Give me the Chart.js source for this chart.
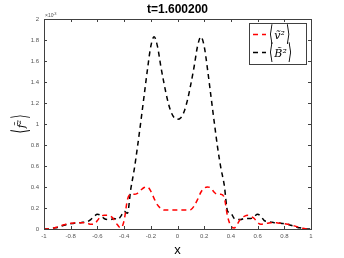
<!DOCTYPE html>
<html><head><meta charset="utf-8">
<script src="https://cdn.jsdelivr.net/npm/chart.js@4"></script>
<style>html,body{margin:0;padding:0;background:#fff;}#wrap{width:344px;height:258px;}</style>
</head><body><div id="wrap"><canvas id="c" width="344" height="258"></canvas></div>
<script>
const titleText = "t=1.600200";
const xLabel = "x";
const yLabel = "\u27E8f\u0303\u00B2\u27E9";
const seriesLabels = ["\u27E8\u1E7D\u00B2\u27E9", "\u27E8B\u0303\u00B2\u27E9"];
const xTicks = [-1, -0.8, -0.6, -0.4, -0.2, 0, 0.2, 0.4, 0.6, 0.8, 1];
const yTicks = [0, 0.2, 0.4, 0.6, 0.8, 1, 1.2, 1.4, 1.6, 1.8, 2];
const xs = [-1.000,-0.975,-0.950,-0.925,-0.900,-0.875,-0.850,-0.825,-0.800,-0.775,-0.750,-0.725,-0.700,-0.675,-0.650,-0.625,-0.600,-0.575,-0.550,-0.525,-0.500,-0.475,-0.450,-0.425,-0.400,-0.375,-0.350,-0.325,-0.300,-0.275,-0.250,-0.225,-0.200,-0.175,-0.150,-0.125,-0.100,-0.075,-0.050,-0.025,0.000,0.025,0.050,0.075,0.100,0.125,0.150,0.175,0.200,0.225,0.250,0.275,0.300,0.325,0.350,0.375,0.400,0.425,0.450,0.475,0.500,0.525,0.550,0.575,0.600,0.625,0.650,0.675,0.700,0.725,0.750,0.775,0.800,0.825,0.850,0.875,0.900,0.925,0.950,0.975,1.000];
const v2 = [0.00,0.00,0.005,0.01,0.02,0.03,0.04,0.05,0.055,0.058,0.06,0.06,0.06,0.055,0.045,0.045,0.08,0.12,0.13,0.13,0.12,0.09,0.04,0.01,0.08,0.28,0.33,0.33,0.34,0.37,0.395,0.40,0.36,0.29,0.23,0.195,0.18,0.18,0.18,0.18,0.18,0.18,0.18,0.18,0.185,0.22,0.28,0.35,0.39,0.40,0.39,0.35,0.33,0.33,0.30,0.12,0.03,0.01,0.05,0.10,0.12,0.13,0.12,0.10,0.06,0.045,0.05,0.055,0.06,0.06,0.058,0.055,0.05,0.045,0.04,0.03,0.02,0.01,0.005,0.00,0.00];
const B2 = [0.00,0.00,0.005,0.01,0.015,0.025,0.035,0.045,0.05,0.055,0.058,0.06,0.065,0.07,0.09,0.12,0.14,0.13,0.10,0.09,0.09,0.10,0.09,0.12,0.17,0.15,0.38,0.56,0.78,1.02,1.27,1.52,1.74,1.83,1.74,1.55,1.38,1.23,1.12,1.06,1.045,1.06,1.12,1.23,1.38,1.55,1.74,1.83,1.74,1.52,1.27,1.02,0.78,0.58,0.42,0.17,0.15,0.10,0.09,0.09,0.10,0.10,0.10,0.12,0.14,0.12,0.08,0.07,0.065,0.06,0.058,0.055,0.05,0.045,0.035,0.025,0.015,0.01,0.005,0.00,0.00];
const colors = ["#ff0000", "#000000"];

const PLOT = {left:44, right:311, top:19, bottom:229};
const DASH = [5, 4];
const BR_FONT = '11px "DejaVu Sans", "Noto Sans", sans-serif';
const IN_FONT = 'italic 11px "DejaVu Serif", "Liberation Serif", serif';

// draws "<inner>" with tall angle brackets; x = left edge, y = vertical middle
function drawMath(ctx, label, x, y) {
  const open = label[0], close = label[label.length - 1];
  const inner = label.slice(1, -1);
  ctx.save();
  ctx.fillStyle = '#000';
  ctx.textBaseline = 'middle';
  ctx.textAlign = 'left';
  ctx.font = BR_FONT;
  const bw = ctx.measureText(open).width;
  ctx.save(); ctx.translate(x, y); ctx.scale(1, 2.0); ctx.fillText(open, 0, 0); ctx.restore();
  let cx = x + bw + 1;
  ctx.font = IN_FONT;
  ctx.fillText(inner, cx, y + 1);
  cx += ctx.measureText(inner).width + 1;
  ctx.font = BR_FONT;
  ctx.save(); ctx.translate(cx, y); ctx.scale(1, 2.0); ctx.fillText(close, 0, 0); ctx.restore();
  ctx.restore();
  return cx + bw - x;
}
function mathWidth(ctx, label) {
  ctx.save();
  ctx.font = BR_FONT;
  const bw = ctx.measureText(label[0]).width;
  ctx.font = IN_FONT;
  const iw = ctx.measureText(label.slice(1, -1)).width;
  ctx.restore();
  return 2 * bw + iw + 2;
}

const boxPlugin = {
  id: 'boxPlugin',
  afterDraw(chart) {
    const ctx = chart.ctx;
    const a = chart.chartArea;
    const xs_ = chart.scales.x, ys_ = chart.scales.y;
    ctx.save();
    ctx.strokeStyle = '#404040';
    ctx.lineWidth = 1;
    ctx.setLineDash([]);
    ctx.strokeRect(Math.round(a.left)+0.5, Math.round(a.top)+0.5, Math.round(a.right-a.left), Math.round(a.bottom-a.top));
    const tl = 3;
    ctx.beginPath();
    xTicks.forEach(v => {
      const px = Math.round(xs_.getPixelForValue(v)) + 0.5;
      ctx.moveTo(px, a.bottom); ctx.lineTo(px, a.bottom - tl);
      ctx.moveTo(px, a.top); ctx.lineTo(px, a.top + tl);
    });
    yTicks.forEach(v => {
      const py = Math.round(ys_.getPixelForValue(v)) + 0.5;
      ctx.moveTo(a.left, py); ctx.lineTo(a.left + tl, py);
      ctx.moveTo(a.right, py); ctx.lineTo(a.right - tl, py);
    });
    ctx.stroke();
    // title
    ctx.fillStyle = '#000';
    ctx.font = 'bold 12px "Liberation Sans", Arial, sans-serif';
    ctx.textAlign = 'center';
    ctx.textBaseline = 'middle';
    ctx.fillText(titleText, (a.left + a.right) / 2, 10);
    // exponent
    ctx.fillStyle = '#555';
    ctx.font = '5px "Liberation Sans", Arial, sans-serif';
    ctx.textAlign = 'left';
    ctx.textBaseline = 'alphabetic';
    ctx.fillText('\u00D710', a.left + 1, a.top - 2);
    ctx.font = '4px "Liberation Sans", Arial, sans-serif';
    ctx.fillText('-3', a.left + 9, a.top - 4);
    // y label (rotated)
    ctx.save();
    ctx.translate(21, (a.top + a.bottom) / 2);
    ctx.rotate(-Math.PI / 2);
    const w = mathWidth(ctx, yLabel);
    drawMath(ctx, yLabel, -w / 2, 0);
    ctx.restore();
    // legend
    const lx = 249, ly = 23, lw = 57, lh = 41;
    ctx.fillStyle = '#fff';
    ctx.fillRect(lx, ly, lw, lh);
    ctx.strokeStyle = '#404040';
    ctx.lineWidth = 1;
    ctx.strokeRect(lx + 0.5, ly + 0.5, lw, lh);
    chart.data.datasets.forEach((ds, i) => {
      const y = ly + 11 + i * 18;
      ctx.strokeStyle = ds.borderColor;
      ctx.lineWidth = 1.5;
      ctx.setLineDash(DASH);
      ctx.beginPath();
      ctx.moveTo(lx + 4, y + 0.5); ctx.lineTo(lx + 17, y + 0.5);
      ctx.stroke();
      ctx.setLineDash([]);
      drawMath(ctx, ds.label, lx + 20, y + 1);
    });
    ctx.restore();
  }
};

const mk = (ys) => xs.map((x, i) => ({x: x, y: ys[i]}));

new Chart(document.getElementById('c'), {
  type: 'line',
  data: {
    datasets: [
      {label: seriesLabels[0], data: mk(v2), borderColor: colors[0], borderWidth: 1.5, borderDash: DASH, pointRadius: 0, fill: false, cubicInterpolationMode: 'monotone'},
      {label: seriesLabels[1], data: mk(B2), borderColor: colors[1], borderWidth: 1.5, borderDash: DASH, pointRadius: 0, fill: false, cubicInterpolationMode: 'monotone'}
    ]
  },
  options: {
    responsive: false,
    animation: false,
    devicePixelRatio: 1,
    layout: {padding: {left: 0, right: 344 - PLOT.right, top: PLOT.top, bottom: 0}},
    plugins: {legend: {display: false}, title: {display: false}, tooltip: {enabled: false}},
    scales: {
      x: {
        type: 'linear', min: -1, max: 1,
        afterBuildTicks: (s) => { s.ticks = xTicks.map(v => ({value: v})); },
        afterFit: (s) => { s.height = 258 - PLOT.bottom; },
        grid: {display: false, drawTicks: false},
        border: {display: false},
        ticks: {padding: 4, color: '#555', font: {size: 6, family: '"Liberation Sans", Arial, sans-serif'}, maxRotation: 0, autoSkip: false, callback: (v) => String(v)},
        title: {display: true, text: xLabel, color: '#000', font: {size: 13, family: '"Liberation Sans", Arial, sans-serif'}, padding: {top: 5, bottom: 0}}
      },
      y: {
        type: 'linear', min: 0, max: 2,
        afterBuildTicks: (s) => { s.ticks = yTicks.map(v => ({value: v})); },
        afterFit: (s) => { s.width = PLOT.left; },
        grid: {display: false, drawTicks: false},
        border: {display: false},
        ticks: {padding: 5, color: '#555', font: {size: 6, family: '"Liberation Sans", Arial, sans-serif'}, autoSkip: false, callback: (v) => String(v)},
        title: {display: false}
      }
    }
  },
  plugins: [boxPlugin]
});
</script>
</body></html>
